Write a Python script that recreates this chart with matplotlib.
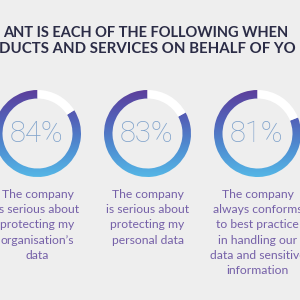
import numpy as np
import matplotlib
matplotlib.use("Agg")
import matplotlib.pyplot as plt
from matplotlib.patches import Wedge
from matplotlib.colors import LinearSegmentedColormap

# ---- data ----
title_lines = ["ANT IS EACH OF THE FOLLOWING WHEN",
               "DUCTS AND SERVICES ON BEHALF OF YO"]
values = [84, 83, 81]
labels = [
    "The company\nis serious about\nprotecting my\norganisation\u2019s\ndata",
    "The company\nis serious about\nprotecting my\npersonal data",
    "The company\nalways conforms\nto best practice\nin handling our\ndata and sensitive\ninformation",
]

# ---- style ----
bg = "#eeeeee"
centers_x = [37.5, 147.5, 257.5]
center_y = 300 - 133.5
r_out = 43.5
ring_w = 8.5
grad = LinearSegmentedColormap.from_list(
    "g", ["#55b6e6", "#4f8fd2", "#5361b8", "#5c3e9b"])

fig = plt.figure(figsize=(3, 3), dpi=100, facecolor=bg)
ax = fig.add_axes([0, 0, 1, 1])
ax.set_facecolor(bg)
ax.set_axis_off()

# title
ax.text(3, 300 - 37, title_lines[0], ha="left", va="baseline",
        fontsize=10.5, fontweight="bold", family="Lato", color="#2b2c46")
ax.text(-1, 300 - 53, title_lines[1], ha="left", va="baseline",
        fontsize=10.8, fontweight="bold", family="Lato", color="#2b2c46")

gradient = np.linspace(0, 1, 256).reshape(-1, 1)

for cx, v, lab in zip(centers_x, values, labels):
    p = v / 100.0
    # white remainder
    rest = Wedge((cx, center_y), r_out, 90 + 360 * p - 360, 90,
                 width=ring_w, facecolor="white", edgecolor="none")
    ax.add_patch(rest)
    # coloured arc with vertical gradient
    arc = Wedge((cx, center_y), r_out, 90, 90 + 360 * p,
                width=ring_w, facecolor="none", edgecolor="none")
    ax.add_patch(arc)
    im = ax.imshow(gradient, cmap=grad, origin="lower", aspect="auto",
                   extent=(cx - r_out, cx + r_out,
                           center_y - r_out, center_y + r_out),
                   interpolation="bilinear")
    im.set_clip_path(arc)
    # percentage
    ax.text(cx - 1.5, center_y - 1, f"{v}%", ha="center", va="center",
            fontsize=21, family="Roboto", fontweight="light",
            color="#7fa2cb")
    # label
    ax.text(cx, 300 - 189, lab, ha="center", va="top", fontsize=8.7,
            family="Lato", color="#7560a8", linespacing=1.47)

ax.set_xlim(0, 300)
ax.set_ylim(0, 300)

fig.savefig("out.png", dpi=100, facecolor=bg)
